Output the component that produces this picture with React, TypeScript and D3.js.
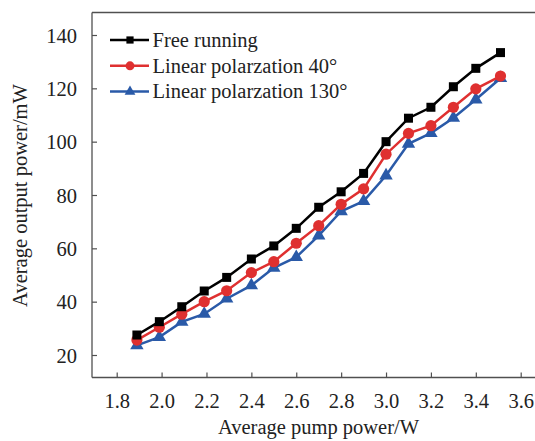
import React, { useEffect, useRef } from "react";
import * as d3 from "d3";

const pumpPower = [1.89, 1.99, 2.09, 2.19, 2.29, 2.4, 2.5, 2.6, 2.7, 2.8, 2.9, 3.0, 3.1, 3.2, 3.3, 3.4, 3.51];
const freeRunning = [27.5, 32.5, 38.1, 44.0, 49.1, 56.0, 60.9, 67.5, 75.4, 81.2, 88.1, 100.0, 108.8, 112.9, 120.6, 127.5, 133.4];
const linear40 = [25.6, 30.4, 35.3, 40.0, 44.1, 50.9, 55.0, 61.9, 68.5, 76.5, 82.3, 95.3, 103.1, 106.0, 112.9, 119.8, 124.6];
const linear130 = [23.6, 26.7, 32.4, 35.4, 41.1, 46.1, 52.7, 56.7, 64.8, 73.9, 77.7, 87.3, 99.2, 103.2, 108.9, 115.8, 123.8];
const seriesNames = ["Free running", "Linear polarzation 40°", "Linear polarzation 130°"];
const xTicks = [1.8, 2.0, 2.2, 2.4, 2.6, 2.8, 3.0, 3.2, 3.4, 3.6];
const yTicks = [20, 40, 60, 80, 100, 120, 140];
const xTitle = "Average pump power/W";
const yTitle = "Average output power/mW";

const W = 535;
const H = 441;
const FONT = "Liberation Serif, Times New Roman, serif";
const FS = 20.5;
const AXIS_COLOR = "#505050";

export default function App() {
  const ref = useRef<SVGSVGElement>(null);

  useEffect(() => {
    const svg = d3.select(ref.current);
    svg.selectAll("*").remove();

    const x = d3.scaleLinear().domain([1.8, 3.6]).range([116.7, 520.7]);
    const y = d3.scaleLinear().domain([20, 140]).range([355, 35]);
    const left = 92;
    const top = 12.5;
    const bottom = 377.5;

    svg.append("line").attr("x1", left).attr("x2", W).attr("y1", top).attr("y2", top)
      .attr("stroke", AXIS_COLOR).attr("stroke-width", 1.3);

    const gx = svg.append("g").attr("transform", `translate(0,${bottom})`)
      .call(d3.axisBottom(x).tickValues(xTicks).tickFormat(d3.format(".1f")).tickSizeInner(-5).tickSizeOuter(0));
    gx.attr("font-family", FONT).attr("font-size", FS);
    gx.select(".domain").remove();
    gx.append("line").attr("x1", left).attr("x2", W).attr("stroke", AXIS_COLOR).attr("stroke-width", 1.3);
    gx.selectAll(".tick line").attr("stroke", AXIS_COLOR).attr("stroke-width", 1.2);
    gx.selectAll(".tick text").attr("y", 30.5).attr("dy", 0)
      .attr("font-family", FONT).attr("font-size", FS).attr("fill", "#222");

    const gy = svg.append("g").attr("transform", `translate(${left},0)`)
      .call(d3.axisLeft(y).tickValues(yTicks).tickSizeInner(-5).tickSizeOuter(0));
    gy.attr("font-family", FONT).attr("font-size", FS);
    gy.select(".domain").remove();
    gy.append("line").attr("y1", top).attr("y2", bottom).attr("stroke", AXIS_COLOR).attr("stroke-width", 1.3);
    gy.selectAll(".tick line").attr("stroke", AXIS_COLOR).attr("stroke-width", 1.2);
    gy.selectAll(".tick text").attr("x", -15).attr("dy", "0.35em")
      .attr("font-family", FONT).attr("font-size", FS).attr("fill", "#222");

    svg.append("text").attr("x", 318.5).attr("y", 433.5).attr("text-anchor", "middle")
      .attr("font-family", FONT).attr("font-size", FS).attr("fill", "#222").text(xTitle);
    svg.append("text").attr("transform", "translate(27,195.5) rotate(-90)").attr("text-anchor", "middle")
      .attr("font-family", FONT).attr("font-size", FS).attr("fill", "#222").text(yTitle);

    const series = [
      { name: seriesNames[0], values: freeRunning, color: "#000000", marker: "square" },
      { name: seriesNames[1], values: linear40, color: "#df3030", marker: "circle" },
      { name: seriesNames[2], values: linear130, color: "#2a5aa8", marker: "triangle" },
    ];

    const line = d3.line<number>().x((_, i) => x(pumpPower[i])).y((v) => y(v));

    const drawMarker = (g: any, type: string, cx: number, cy: number, color: string, scale: number) => {
      if (type === "square") {
        const s = 9 * scale;
        g.append("rect").attr("x", cx - s / 2).attr("y", cy - s / 2).attr("width", s).attr("height", s).attr("fill", color);
      } else if (type === "circle") {
        g.append("circle").attr("cx", cx).attr("cy", cy).attr("r", 5.6 * scale).attr("fill", color);
      } else {
        const sym = d3.symbol().type(d3.symbolTriangle).size(78 * scale * scale);
        g.append("path").attr("d", sym()).attr("transform", `translate(${cx},${cy})`).attr("fill", color);
      }
    };

    [...series].reverse().forEach((s) => {
      const g = svg.append("g");
      g.append("path").attr("d", line(s.values)).attr("fill", "none").attr("stroke", s.color).attr("stroke-width", 2.5);
      s.values.forEach((v, i) => drawMarker(g, s.marker, x(pumpPower[i]), y(v), s.color, 1));
    });

    const rows = [40, 65.8, 91.6];
    series.forEach((s, i) => {
      const g = svg.append("g");
      g.append("line").attr("x1", 110).attr("x2", 149).attr("y1", rows[i]).attr("y2", rows[i])
        .attr("stroke", s.color).attr("stroke-width", 2.5);
      drawMarker(g, s.marker, 130, rows[i], s.color, 0.8);
      g.append("text").attr("x", 152.5).attr("y", rows[i]).attr("dy", "0.33em")
        .attr("font-family", FONT).attr("font-size", FS).attr("fill", "#222").text(s.name);
    });
  }, []);

  return (
    <div style={{ position: "fixed", left: 0, top: 0 }}>
      <svg ref={ref} width={W} height={H} style={{ display: "block", background: "#fff" }} />
    </div>
  );
}
